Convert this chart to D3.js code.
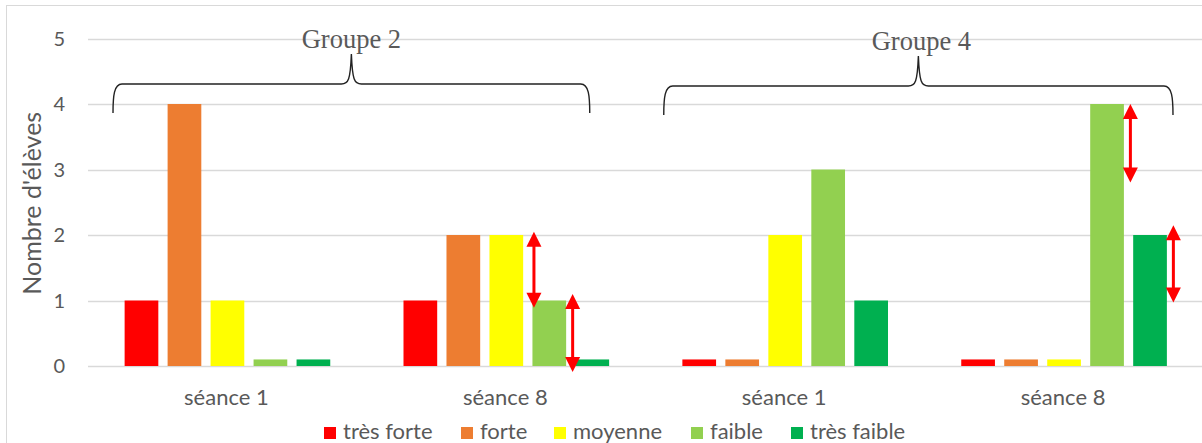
<!DOCTYPE html>
<html>
<head>
<meta charset="utf-8">
<script src="https://cdn.jsdelivr.net/npm/d3@7"></script>
<style>
  html, body { margin: 0; padding: 0; background: #fff; }
  svg { display: block; }
</style>
</head>
<body>
<svg id="chart" width="1202" height="443"></svg>
<script>
// ---- data ----
const categories = ["g2s1", "g2s8", "g4s1", "g4s8"];
const categoryLabels = ["séance 1", "séance 8", "séance 1", "séance 8"];
const seriesNames = ["très forte", "forte", "moyenne", "faible", "très faible"];
const seriesColors = ["#FF0000", "#ED7D31", "#FFFF00", "#92D050", "#00B050"];
const tresForte  = [1, 1, 0.1, 0.1];
const forte      = [4, 2, 0.1, 0.1];
const moyenne    = [1, 2, 2, 0.1];
const faible     = [0.1, 1, 3, 4];
const tresFaible = [0.1, 0.1, 1, 2];
const yTicks = [0, 1, 2, 3, 4, 5];
const yTitle = "Nombre d'élèves";
const groupLabels = ["Groupe 2", "Groupe 4"];
// double arrows: category, series index they sit beside, tip values
const arrowCats   = ["g2s8", "g2s8", "g4s8", "g4s8"];
const arrowSeries = [3, 3, 3, 4];
const arrowSide   = ["left", "right", "right", "right"];
const arrowTop    = [2.05, 1.1, 4.0, 2.15];
const arrowBottom = [0.89, -0.09, 2.8, 0.97];

const values = [tresForte, forte, moyenne, faible, tresFaible];
const FONT = "Lato, 'Open Sans', sans-serif";
const SERIF = "'Liberation Serif', 'DejaVu Serif', serif";
const GREY = "#595959";

// ---- layout ----
const svg = d3.select("#chart");
const plot = { left: 88, right: 1203.5, top: 38.5, bottom: 366 };

const x = d3.scaleBand().domain(categories).range([plot.left, plot.right]).paddingInner(0).paddingOuter(0);
const xi = d3.scaleBand().domain(d3.range(seriesNames.length)).range([0, x.bandwidth()])
  .paddingInner(0.216).paddingOuter(0.852);
const y = d3.scaleLinear().domain([0, 5]).range([plot.bottom, plot.top]);

// border
svg.append("rect").attr("x", 6.5).attr("y", 5.5).attr("width", 1210).attr("height", 450)
  .attr("fill", "none").attr("stroke", "#D9D9D9").attr("stroke-width", 1);

// gridlines
svg.append("g").selectAll("line").data(yTicks).join("line")
  .attr("x1", plot.left).attr("x2", 1202)
  .attr("y1", d => Math.round(y(d)) + 0.5).attr("y2", d => Math.round(y(d)) + 0.5)
  .attr("stroke", "#D9D9D9").attr("stroke-width", 1.3);

// y tick labels
svg.append("g").selectAll("text").data(yTicks).join("text")
  .attr("x", 65).attr("y", d => y(d)).attr("dy", "0.36em")
  .attr("text-anchor", "end").style("font-family", FONT).attr("font-size", 20).attr("fill", GREY)
  .text(d => d);

// y title
svg.append("text")
  .attr("transform", `translate(41, ${(plot.top + plot.bottom) / 2 + 1}) rotate(-90)`)
  .attr("text-anchor", "middle").style("font-family", FONT).attr("font-size", 25).attr("fill", GREY)
  .text(yTitle);

// bars
const rows = [];
categories.forEach((c, ci) => values.forEach((arr, si) => rows.push({ c, si, v: arr[ci] })));
svg.append("g").selectAll("rect").data(rows).join("rect")
  .attr("x", d => x(d.c) + xi(d.si))
  .attr("width", xi.bandwidth())
  .attr("y", d => y(d.v))
  .attr("height", d => y(0) - y(d.v))
  .attr("fill", d => seriesColors[d.si]);

// category labels
svg.append("g").selectAll("text").data(categories).join("text")
  .attr("x", d => x(d) + x.bandwidth() / 2 - 1).attr("y", 405)
  .attr("text-anchor", "middle").style("font-family", FONT).attr("font-size", 22).attr("fill", GREY)
  .text((d, i) => categoryLabels[i]);

// legend
const legendX = [324, 461, 554, 691, 791];
const lg = svg.append("g").selectAll("g").data(seriesNames).join("g")
  .attr("transform", (d, i) => `translate(${legendX[i]}, 427)`);
lg.append("rect").attr("width", 12).attr("height", 12).attr("fill", (d, i) => seriesColors[i]);
lg.append("text").attr("x", 19).attr("y", 11.5).style("font-family", FONT)
  .attr("font-size", 22).attr("fill", GREY).text(d => d);

// group braces
function bracePath(x1, x2, yTop, yEnd, tipY) {
  const xm = (x1 + x2) / 2;
  return `M${x1},${yEnd} C${x1},${yTop + 12} ${x1 + 1},${yTop} ${x1 + 9},${yTop}
          L${xm - 10},${yTop} C${xm - 3},${yTop} ${xm - 1},${yTop - 4} ${xm},${tipY}
          C${xm + 1},${yTop - 4} ${xm + 3},${yTop} ${xm + 10},${yTop}
          L${x2 - 9},${yTop} C${x2 - 1},${yTop} ${x2},${yTop + 12} ${x2},${yEnd}`;
}
const bracePos = [
  { x1: x("g2s1") + 25, x2: x("g2s8") + x.bandwidth() - 56, top: 84, tip: 54, end: 113, ty: 48, dx: 0 },
  { x1: x("g4s1") + 18, x2: x("g4s8") + x.bandwidth() - 30.5, top: 86, tip: 56, end: 115, ty: 50, dx: 3 }
];
groupLabels.forEach((label, i) => {
  const b = bracePos[i];
  svg.append("path").attr("d", bracePath(b.x1, b.x2, b.top, b.end, b.tip))
    .attr("fill", "none").attr("stroke", "#222").attr("stroke-width", 1.4);
  svg.append("text").attr("x", (b.x1 + b.x2) / 2 + b.dx).attr("y", b.ty).attr("text-anchor", "middle")
    .style("font-family", SERIF)
    .attr("font-size", 26.5).attr("fill", GREY).text(label);
});

// red double arrows
const ag = svg.append("g");
arrowCats.forEach((c, i) => {
  const s = arrowSeries[i];
  const ax = arrowSide[i] === "left"
    ? x(c) + xi(s) + 1.5
    : x(c) + xi(s) + xi.bandwidth() + 6.5;
  const yA = y(arrowTop[i]), yB = y(arrowBottom[i]);
  const hw = 7.5, hh = 15;
  ag.append("line").attr("x1", ax).attr("x2", ax).attr("y1", yA + hh - 2).attr("y2", yB - hh + 2)
    .attr("stroke", "#FF0000").attr("stroke-width", 3);
  ag.append("path").attr("d", `M${ax},${yA} L${ax - hw},${yA + hh} L${ax + hw},${yA + hh} Z`).attr("fill", "#FF0000");
  ag.append("path").attr("d", `M${ax},${yB} L${ax - hw},${yB - hh} L${ax + hw},${yB - hh} Z`).attr("fill", "#FF0000");
});
</script>
</body>
</html>
